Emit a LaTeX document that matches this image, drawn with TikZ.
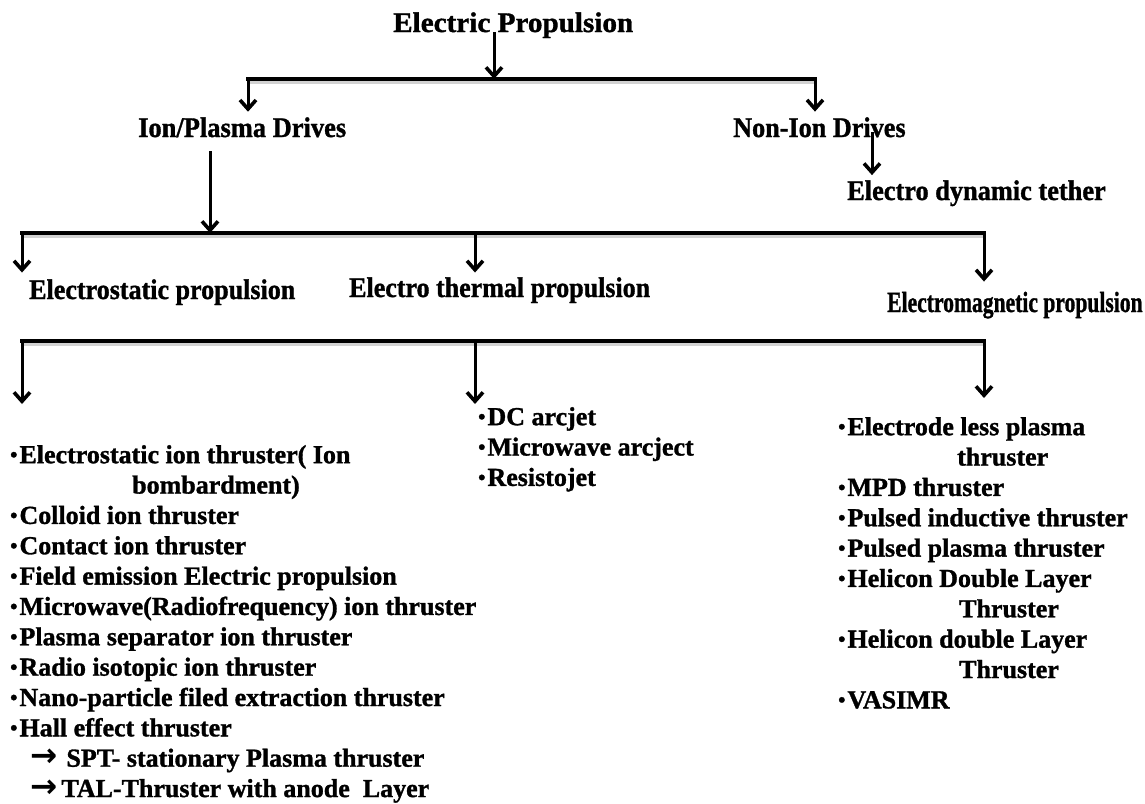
\documentclass[tikz,border=0pt]{standalone}
\usepackage{fontspec}
\setmainfont{Liberation Serif}[BoldFeatures={FakeBold=1.2}]
\newfontfamily\djv{DejaVu Sans}
\usetikzlibrary{arrows.meta}
\newcommand\bu{\raisebox{0.06em}{\scalebox{0.8}{•}}\hspace{2pt}}
\newcommand\rarr{\scalebox{1.25}[1.25]{\djv\bfseries →}}
\begin{document}
\begin{tikzpicture}[x=1pt,y=-1pt,
  head/.style={font=\fontsize{27}{30}\selectfont\bfseries, inner sep=0pt, anchor=base west},
  lst/.style={font=\fontsize{26}{30.35}\selectfont\bfseries, inner sep=0pt, anchor=north west, align=left},
  bar/.style={line width=3.4pt, line cap=rect},
  shade/.style={line width=3pt, gray!35},
  arr/.style={line width=3pt, -{Straight Barb[length=9pt,width=16pt,line width=3.6pt]}},
  gap/.style={shorten >=#1}]
\useasboundingbox (0,0) rectangle (1145,803);

% headings
\node[head] (title)  at (393,32)  {\scalebox{1.08}[1.05]{Electric Propulsion}};
\node[head] (ion)    at (138,137) {\scalebox{0.98}[1.05]{Ion/Plasma Drives}};
\node[head] (nonion) at (733,137) {\scalebox{0.97}[1.05]{Non-Ion Drives}};
\node[head] (tether) at (847,200) {\scalebox{0.976}[1.05]{Electro dynamic tether}};
\node[head] (estat)  at (29,299)  {\scalebox{0.965}[1.05]{Electrostatic propulsion}};
\node[head] (etherm) at (349,297) {\scalebox{0.963}[1.05]{Electro thermal propulsion}};
\node[head] (emag)   at (887,312) {\scalebox{0.80}[1.08]{Electromagnetic propulsion}};

% lists
\node[lst] (lstat) at (10,441.75) {\bu Electrostatic ion thruster( Ion\strut\\
\hspace*{122pt}bombardment)\\
\bu Colloid ion thruster\\
\bu Contact ion thruster\\
\bu Field emission Electric propulsion\\
\bu Microwave(Radiofrequency) ion thruster\\
\bu Plasma separator ion thruster\\
\bu Radio isotopic ion thruster\\
\bu Nano-particle filed extraction thruster\\
\bu Hall effect thruster\\
\hspace*{20pt}\rarr\hspace{9pt}SPT- stationary Plasma thruster\\
\hspace*{20pt}\rarr\hspace{4pt}TAL-Thruster with anode\ \ Layer};

\node[lst] (ltherm) at (478,403.75) {\bu DC arcjet\strut\\
\bu Microwave arcject\\
\bu Resistojet};

\node[lst] (lmag) at (838,413.75) {\bu Electrode less plasma\strut\\
\hspace*{119pt}thruster\\
\bu MPD thruster\\
\bu Pulsed inductive thruster\\
\bu Pulsed plasma thruster\\
\bu Helicon Double Layer\\
\hspace*{121pt}Thruster\\
\bu Helicon double Layer\\
\hspace*{121pt}Thruster\\
\bu VASIMR};

% bar coordinates
\coordinate (b1l) at (248,79);
\coordinate (b1m) at (494,79);
\coordinate (b1r) at (815,79);
\coordinate (b2l) at (22,233);
\coordinate (b2m) at (210,233);
\coordinate (b2c) at (475,233);
\coordinate (b2r) at (984,233);
\coordinate (b3l) at (22,341);
\coordinate (b3c) at (475,341);
\coordinate (b3r) at (984,341);
\coordinate (e1) at (22,404);
\coordinate (e2) at (475,404);
\coordinate (e3) at (984,398);
\coordinate (t1) at (872,132);

% shadows
\draw[shade] ([yshift=-3.2pt]b1l) -- ([yshift=-3.2pt]b1r);
\draw[shade] ([yshift=-3.2pt]b2l) -- ([yshift=-3.2pt]b2r);
\draw[shade] ([yshift=-3.2pt]b3l) -- ([yshift=-3.2pt]b3r);

% bars
\draw[bar] (b1l) -- (b1r);
\draw[bar] (b2l) -- (b2r);
\draw[bar] (b3l) -- (b3r);

% arrows
\draw[arr] (title.base -| b1m) -- (b1m);
\draw[arr, gap=5.4pt] (b1l) -- (b1l |- ion.north);
\draw[arr, gap=5.5pt] (b1r) -- (b1r |- nonion.north);
\draw[arr, gap=5pt] (t1) -- (t1 |- tether.north);
\draw[arr, shorten <=14pt] (ion.south -| b2m) -- (b2m);
\draw[arr, gap=6.6pt] (b2l) -- (b2l |- estat.north);
\draw[arr, gap=4.6pt] (b2c) -- (b2c |- etherm.north);
\draw[arr, gap=10pt] (b2r) -- (b2r |- emag.north);
\draw[arr] (b3l) -- (e1);
\draw[arr] (b3c) -- (e2);
\draw[arr] (b3r) -- (e3);
\end{tikzpicture}
\end{document}
